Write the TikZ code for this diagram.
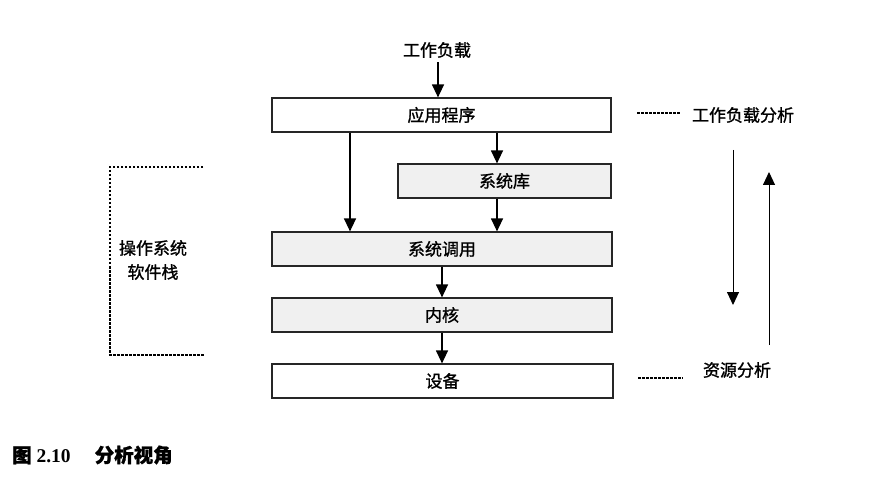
\documentclass[tikz,border=0pt]{standalone}
\usepackage{fontspec}
\setmainfont{Liberation Serif}
\newfontfamily\cjk[FakeBold=1.2]{Noto Sans CJK SC}
\usetikzlibrary{arrows.meta}
\begin{document}
\begin{tikzpicture}[x=1pt,y=-1pt,
  layer/.style={draw=black!85,line width=1.2pt,minimum height=34pt,inner sep=0pt,font=\cjk\fontsize{17}{19}\selectfont},
  shaded/.style={fill=black!6},
  flow/.style={line width=1.3pt,-{Triangle[length=13pt,width=12pt]}},
  dashline/.style={line width=1.3pt,dash pattern=on 2.5pt off 1.5pt},
  lbl/.style={font=\cjk\fontsize{17}{19}\selectfont,inner sep=0pt}]
\useasboundingbox (0,0) rectangle (882,502);
\fill[white] (0,0) rectangle (882,502);
% boxes
\node[layer,minimum width=339pt] (app) at (441.5,115) {应用程序};
\node[layer,shaded,minimum width=213pt] (lib) at (504.5,181) {系统库};
\node[layer,shaded,minimum width=340pt] (sys) at (442,249) {系统调用};
\node[layer,shaded,minimum width=340pt] (ker) at (442,315) {内核};
\node[layer,minimum width=341pt] (dev) at (442.5,381) {设备};
\node[lbl] (wl) at (437,50) {工作负载};
% arrows
\draw[flow] (wl.south -| 438,0) ++(0,4) -- (app.north -| 438,0);
\draw[flow] (app.south -| 350,0) -- (sys.north -| 350,0);
\draw[flow] (app.south -| 497,0) -- (lib.north -| 497,0);
\draw[flow] (lib.south -| 497,0) -- (sys.north -| 497,0);
\draw[flow] (sys.south -| 442,0) -- (ker.north -| 442,0);
\draw[flow] (ker.south -| 442,0) -- (dev.north -| 442,0);
% OS stack bracket
\coordinate (bt) at (203,167);
\coordinate (bb) at (205,355);
\draw[dashline] (bt) -- (110,167) -- (110,355) -- (bb);
\node[lbl,align=center] (os) at (153,260) {操作系统\\[5pt]软件栈};
% right side
\node[lbl] (wa) at (743,115) {工作负载分析};
\node[lbl] (ra) at (737,370) {资源分析};
\coordinate (d1) at (637,113);
\coordinate (d1e) at (681,113);
\coordinate (d2) at (638,378);
\coordinate (d2e) at (683,378);
\draw[dashline] (d1) -- (d1e);
\draw[dashline] (d2) -- (d2e);
\coordinate (a1) at (733,150);
\coordinate (a2) at (733,305);
\coordinate (b1) at (769,345);
\coordinate (b2) at (769,172);
\draw[flow,line width=1pt] (a1) -- (a2);
\draw[flow,line width=1pt] (b1) -- (b2);
% caption
\node[anchor=west,inner sep=0pt,font=\fontsize{19.5}{21}\selectfont\bfseries] (cap) at (12,455) {{\cjk 图} 2.10\hspace{24pt}{\cjk 分析视角}};
\end{tikzpicture}
\end{document}
